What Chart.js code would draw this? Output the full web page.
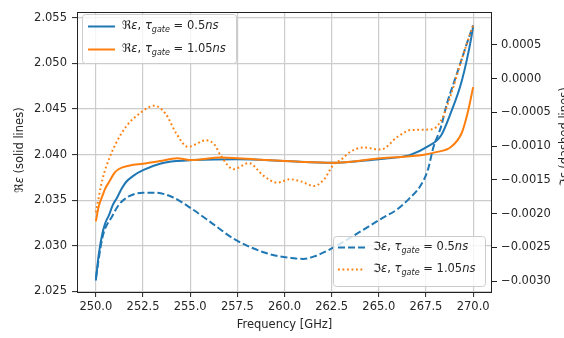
<!DOCTYPE html>
<html><head><meta charset="utf-8">
<script src="https://cdn.jsdelivr.net/npm/chart.js@4"></script>
<style>html,body{margin:0;padding:0;background:#fff}</style>
</head><body>
<canvas id="c" width="564" height="338"></canvas>
<script>
// ---- data ----
const reBlueFreq = [250, 250.15, 250.35, 250.5, 250.7, 250.9, 251.1, 251.35, 251.6, 252, 252.5, 253.4, 254.3, 255.1, 257.5, 260, 262.5, 265, 266, 266.7, 267.6, 268.3, 268.8, 269.4, 269.9, 270];
const reBlueVals = [2.0262, 2.0290, 2.0314, 2.0325, 2.0334, 2.0345, 2.0352, 2.0362, 2.0370, 2.0377, 2.0383, 2.0390, 2.0393, 2.0394, 2.0395, 2.0393, 2.0391, 2.0395, 2.0397, 2.0400, 2.0409, 2.0421, 2.0445, 2.0481, 2.0528, 2.0541];

const reOrangeFreq = [250, 250.15, 250.35, 250.5, 250.7, 250.95, 251.2, 251.8, 252.5, 253.4, 254.3, 255.1, 256.6, 259.1, 260.9, 262.5, 265.1, 267.4, 268.1, 268.8, 269.4, 269.7, 270];
const reOrangeVals = [2.0327, 2.0343, 2.0355, 2.0363, 2.0370, 2.0379, 2.0384, 2.0388, 2.0390, 2.0393, 2.0396, 2.0394, 2.0397, 2.0394, 2.0392, 2.0391, 2.0396, 2.0400, 2.0403, 2.0408, 2.0424, 2.0445, 2.0474];

const imBlueFreq = [250, 250.35, 250.88, 251.24, 251.77, 252.5, 253.2, 254.1, 255.1, 256.2, 257.3, 259.1, 260.5, 261.0, 261.6, 262.6, 263.7, 265.1, 266.0, 266.6, 267.2, 267.6, 267.9, 268.3, 268.6, 269.0, 269.36, 269.7, 270];
const imBlueVals = [-0.00295, -0.00235, -0.00203, -0.00186, -0.00174, -0.00169, -0.00169, -0.00176, -0.00193, -0.00215, -0.00237, -0.00259, -0.00266, -0.00267, -0.00263, -0.00250, -0.00232, -0.00208, -0.00193, -0.00178, -0.00159, -0.00135, -0.00101, -0.00071, -0.00038, -0.00004, 0.00026, 0.00055, 0.00079];

const imOrangeFreq = [250, 250.35, 250.71, 251.06, 251.6, 252.3, 253.1, 253.7, 254.26, 254.88, 255.85, 256.3, 256.6, 257.3, 258.1, 258.9, 259.6, 260.3, 260.85, 261.56, 262.1, 262.6, 263.0, 263.5, 264.2, 265.1, 266.0, 266.7, 267.8, 268.3, 268.83, 269.36, 270];
const imOrangeVals = [-0.00198, -0.00149, -0.00118, -0.00096, -0.00071, -0.00052, -0.00040, -0.00052, -0.00081, -0.00101, -0.00091, -0.00098, -0.00113, -0.00134, -0.00125, -0.00144, -0.00154, -0.00149, -0.00152, -0.00159, -0.00149, -0.00127, -0.00120, -0.00108, -0.00102, -0.00105, -0.00086, -0.00076, -0.00075, -0.00062, -0.00023, 0.00026, 0.00079];

const xTickValues = [250, 252.5, 255, 257.5, 260, 262.5, 265, 267.5, 270];
const leftTickValues = [2.025, 2.030, 2.035, 2.040, 2.045, 2.050, 2.055];
const rightTickValues = [-0.0030, -0.0025, -0.0020, -0.0015, -0.0010, -0.0005, 0.0000, 0.0005];

const xTitle = 'Frequency [GHz]';
const leftTitle = [{t:'ℜ'},{t:'ε',it:1},{t:' (solid lines)'}];
const rightTitle = [{t:'ℑ'},{t:'ε',it:1},{t:' (dashed lines)'}];
const legendReBlue = [{t:'ℜ'},{t:'ε',it:1},{t:', '},{t:'τ',it:1},{t:'gate',it:1,sub:1},{t:' = 0.5'},{t:'ns',it:1}];
const legendReOrange = [{t:'ℜ'},{t:'ε',it:1},{t:', '},{t:'τ',it:1},{t:'gate',it:1,sub:1},{t:' = 1.05'},{t:'ns',it:1}];
const legendImBlue = [{t:'ℑ'},{t:'ε',it:1},{t:', '},{t:'τ',it:1},{t:'gate',it:1,sub:1},{t:' = 0.5'},{t:'ns',it:1}];
const legendImOrange = [{t:'ℑ'},{t:'ε',it:1},{t:', '},{t:'τ',it:1},{t:'gate',it:1,sub:1},{t:' = 1.05'},{t:'ns',it:1}];

// ---- styling ----
const BLUE = '#1f77b4', ORANGE = '#ff7f0e';
const FONT = '"DejaVu Sans"';
const FS = 11.5;
const TXT = '#262626';
const zip = (xs, ys) => xs.map((x, i) => ({x, y: ys[i]}));

function drawMath(ctx, parts, x, y, size) {
  for (const p of parts) {
    const s = p.sub ? size * 0.7 : size;
    ctx.font = (p.it ? 'italic ' : '') + s + 'px ' + FONT;
    ctx.fillText(p.t, x, y + (p.sub ? size * 0.28 : 0));
    x += ctx.measureText(p.t).width;
  }
  return x;
}
function mathWidth(ctx, parts, size) {
  let w = 0;
  for (const p of parts) {
    const s = p.sub ? size * 0.7 : size;
    ctx.font = (p.it ? 'italic ' : '') + s + 'px ' + FONT;
    w += ctx.measureText(p.t).width;
  }
  return w;
}
function roundRect(ctx, x, y, w, h, r) {
  ctx.beginPath();
  ctx.moveTo(x + r, y); ctx.lineTo(x + w - r, y); ctx.arcTo(x + w, y, x + w, y + r, r);
  ctx.lineTo(x + w, y + h - r); ctx.arcTo(x + w, y + h, x + w - r, y + h, r);
  ctx.lineTo(x + r, y + h); ctx.arcTo(x, y + h, x, y + h - r, r);
  ctx.lineTo(x, y + r); ctx.arcTo(x, y, x + r, y, r); ctx.closePath();
}
function drawLegend(ctx, box, entries) {
  ctx.save();
  roundRect(ctx, box.x + 0.5, box.y + 0.5, box.w, box.h, 3);
  ctx.fillStyle = 'rgba(255,255,255,0.8)';
  ctx.fill();
  ctx.strokeStyle = '#cccccc'; ctx.lineWidth = 1; ctx.stroke();
  for (const e of entries) {
    ctx.beginPath();
    ctx.strokeStyle = e.color; ctx.lineWidth = 2; ctx.setLineDash(e.dash || []);
    ctx.moveTo(box.sx, e.y); ctx.lineTo(box.sx + 27, e.y); ctx.stroke();
    ctx.setLineDash([]);
    ctx.fillStyle = TXT; ctx.textBaseline = 'middle'; ctx.textAlign = 'left';
    drawMath(ctx, e.parts, box.tx, e.y, FS);
  }
  ctx.restore();
}

const decor = {
  id: 'decor',
  afterDatasetsDraw(chart) {
    const ctx = chart.ctx, a = chart.chartArea;
    ctx.save();
    // frame (spines)
    ctx.strokeStyle = '#222'; ctx.lineWidth = 1;
    ctx.strokeRect(Math.round(a.left) + 0.5, Math.round(a.top) + 0.5, Math.round(a.right - a.left) - 1, Math.round(a.bottom - a.top));
    // legends
    drawLegend(ctx, {x: 82, y: 14, w: 154, h: 49, sx: 88, tx: 122}, [
      {color: BLUE, y: 26.5, parts: legendReBlue},
      {color: ORANGE, y: 49.5, parts: legendReOrange}
    ]);
    drawLegend(ctx, {x: 333, y: 236, w: 152, h: 50, sx: 338, tx: 373}, [
      {color: BLUE, y: 247.5, dash: [7, 3], parts: legendImBlue},
      {color: ORANGE, y: 269.5, dash: [1.8, 2.7], parts: legendImOrange}
    ]);
    // axis titles
    ctx.fillStyle = TXT;
    ctx.font = FS + 'px ' + FONT; ctx.textBaseline = 'middle';
    ctx.textAlign = 'center';
    ctx.fillText(xTitle, (a.left + a.right) / 2, 325);
    ctx.textAlign = 'left';
    // left title, reading bottom to top
    let w = mathWidth(ctx, leftTitle, FS);
    ctx.save(); ctx.translate(20, 150); ctx.rotate(-Math.PI / 2);
    drawMath(ctx, leftTitle, -w / 2, 0, FS); ctx.restore();
    // right title (partly cut by the canvas edge, as in the reference)
    w = mathWidth(ctx, rightTitle, FS);
    ctx.save(); ctx.translate(565, 137); ctx.rotate(-Math.PI / 2);
    drawMath(ctx, rightTitle, -w / 2, 0, FS); ctx.restore();
    ctx.restore();
  }
};

const fmtRight = v => {
  if (Math.abs(v) < 1e-12) return '0.0000';
  return v.toFixed(4).replace('-', '\u2212');
};

const tickFont = {family: FONT, size: FS};

new Chart(document.getElementById('c'), {
  type: 'line',
  data: {
    datasets: [
      {data: zip(imOrangeFreq, imOrangeVals), yAxisID: 'y2', borderColor: ORANGE, borderWidth: 2, borderDash: [1.8, 2.7], pointRadius: 0, cubicInterpolationMode: 'monotone', order: 0, fill: false},
      {data: zip(imBlueFreq, imBlueVals), yAxisID: 'y2', borderColor: BLUE, borderWidth: 2, borderDash: [7, 3], pointRadius: 0, cubicInterpolationMode: 'monotone', order: 1, fill: false},
      {data: zip(reOrangeFreq, reOrangeVals), yAxisID: 'y', borderColor: ORANGE, borderWidth: 2, pointRadius: 0, cubicInterpolationMode: 'monotone', order: 2, fill: false},
      {data: zip(reBlueFreq, reBlueVals), yAxisID: 'y', borderColor: BLUE, borderWidth: 2, pointRadius: 0, cubicInterpolationMode: 'monotone', order: 3, fill: false}
    ]
  },
  options: {
    responsive: false, animation: false, devicePixelRatio: 1,
    layout: {padding: {top: 7, left: 0, right: 0, bottom: 0}},
    plugins: {legend: {display: false}, tooltip: {enabled: false}},
    scales: {
      x: {
        type: 'linear', min: 249, max: 271,
        afterBuildTicks: s => { s.ticks = xTickValues.map(v => ({value: v})); },
        afterFit: s => { s.height = 46; },
        ticks: {callback: v => v.toFixed(1), font: tickFont, color: TXT, padding: 3, maxRotation: 0, autoSkip: false},
        grid: {color: '#cccccc', lineWidth: 1.2, tickLength: 5, tickColor: '#222', tickWidth: 1},
        border: {display: false}
      },
      y: {
        position: 'left', min: 2.02494, max: 2.05565,
        afterBuildTicks: s => { s.ticks = leftTickValues.map(v => ({value: v})); },
        afterFit: s => { s.width = 77; },
        ticks: {callback: v => v.toFixed(3), font: tickFont, color: TXT, padding: 5, autoSkip: false},
        grid: {color: '#cccccc', lineWidth: 1.2, tickLength: 5, tickColor: '#222', tickWidth: 1},
        border: {display: false}
      },
      y2: {
        position: 'right', min: -0.00316, max: 0.00099,
        afterBuildTicks: s => { s.ticks = rightTickValues.map(v => ({value: v})); },
        afterFit: s => { s.width = 72; },
        ticks: {callback: fmtRight, font: tickFont, color: TXT, padding: 4, autoSkip: false},
        grid: {drawOnChartArea: false, tickLength: 5, tickColor: '#222', tickWidth: 1},
        border: {display: false}
      }
    }
  },
  plugins: [decor]
});
</script>
</body></html>
